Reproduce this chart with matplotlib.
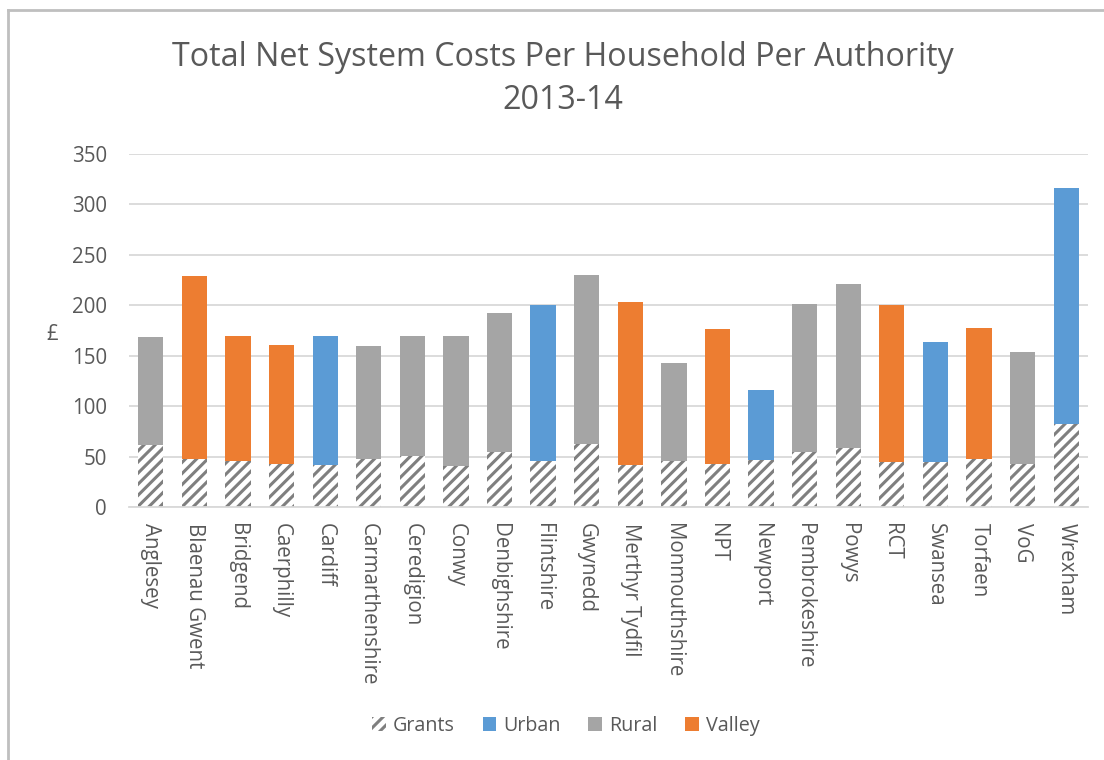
import matplotlib.pyplot as plt
from matplotlib.patches import Patch
import numpy as np

authorities = ["Anglesey", "Blaenau Gwent", "Bridgend", "Caerphilly", "Cardiff",
               "Carmarthenshire", "Ceredigion", "Conwy", "Denbighshire", "Flintshire",
               "Gwynedd", "Merthyr Tydfil", "Monmouthshire", "NPT", "Newport",
               "Pembrokeshire", "Powys", "RCT", "Swansea", "Torfaen", "VoG", "Wrexham"]
area_type = ["Rural", "Valley", "Valley", "Valley", "Urban",
             "Rural", "Rural", "Rural", "Rural", "Urban",
             "Rural", "Valley", "Rural", "Valley", "Urban",
             "Rural", "Rural", "Valley", "Urban", "Valley", "Rural", "Urban"]
# total net system cost per household (GBP) and the part covered by grants
total_cost = [169, 229, 170, 161, 170, 160, 170, 170, 192, 200, 230,
              203, 143, 177, 116, 201, 221, 200, 164, 178, 154, 316]
grants = [62, 48, 46, 43, 42, 48, 51, 41, 55, 46, 63,
          42, 46, 43, 47, 55, 59, 45, 45, 48, 43, 83]

colours = {"Urban": "#5B9BD5", "Rural": "#A5A5A5", "Valley": "#ED7D31"}
text_grey = "#595959"
grid_grey = "#D9D9D9"

plt.rcParams["font.family"] = ["Open Sans", "DejaVu Sans"]
plt.rcParams["hatch.linewidth"] = 2.2

fig = plt.figure(figsize=(11.04, 7.6), dpi=100)
ax = fig.add_axes([129 / 1104, 1 - 507.3 / 760, (1088 - 129) / 1104, 353.3 / 760])

x = np.arange(len(authorities))
total = np.array(total_cost)
grant = np.array(grants)
width = 0.58

ax.bar(x, grant, width, color="white", edgecolor="#7F7F7F", hatch="///",
       linewidth=0, zorder=2)
for kind in ["Urban", "Rural", "Valley"]:
    mask = np.array([t == kind for t in area_type])
    ax.bar(x[mask], (total - grant)[mask], width, bottom=grant[mask],
           color=colours[kind], linewidth=0, zorder=2)

ax.set_xlim(-0.5, len(authorities) - 0.5)
ax.set_ylim(0, 350)
ax.set_yticks(range(0, 351, 50))
ax.set_xticks(x)
ax.set_xticklabels(authorities, rotation=-90, ha="center", va="top")
ax.tick_params(axis="both", length=0, labelsize=14.8, colors=text_grey)
ax.tick_params(axis="y", pad=16)
ax.tick_params(axis="x", pad=11)
ax.grid(axis="y", color=grid_grey, linewidth=1.3, zorder=0)
for side in ["top", "right", "left"]:
    ax.spines[side].set_visible(False)
ax.spines["bottom"].set_color(grid_grey)
ax.spines["bottom"].set_linewidth(1.3)

fig.text(52 / 1104, 1 - 335 / 760, "£", fontsize=14.8, color=text_grey,
         ha="center", va="center")
fig.text(563 / 1104, 1 - 79 / 760,
         "Total Net System Costs Per Household Per Authority\n2013-14",
         fontsize=23.2, color=text_grey, ha="center", va="center",
         linespacing=1.4)

handles = [Patch(facecolor="white", edgecolor="#7F7F7F", hatch="///", linewidth=0,
                 label="Grants")]
handles += [Patch(facecolor=colours[k], label=k) for k in ["Urban", "Rural", "Valley"]]
fig.legend(handles=handles, loc="center", bbox_to_anchor=(566 / 1104, 1 - 726 / 760),
           ncol=4, frameon=False, fontsize=14.2, labelcolor=text_grey,
           handlelength=0.7, handleheight=0.7, handletextpad=0.35, columnspacing=1.4)

# chart area outline (left and top edges)
fig.add_artist(plt.Line2D([8 / 1104, 8 / 1104], [0, 1 - 10 / 760],
                          color="#BFBFBF", linewidth=2, transform=fig.transFigure))
fig.add_artist(plt.Line2D([8 / 1104, 1], [1 - 10 / 760, 1 - 10 / 760],
                          color="#BFBFBF", linewidth=2, transform=fig.transFigure))

fig.savefig("out.png", dpi=100)
